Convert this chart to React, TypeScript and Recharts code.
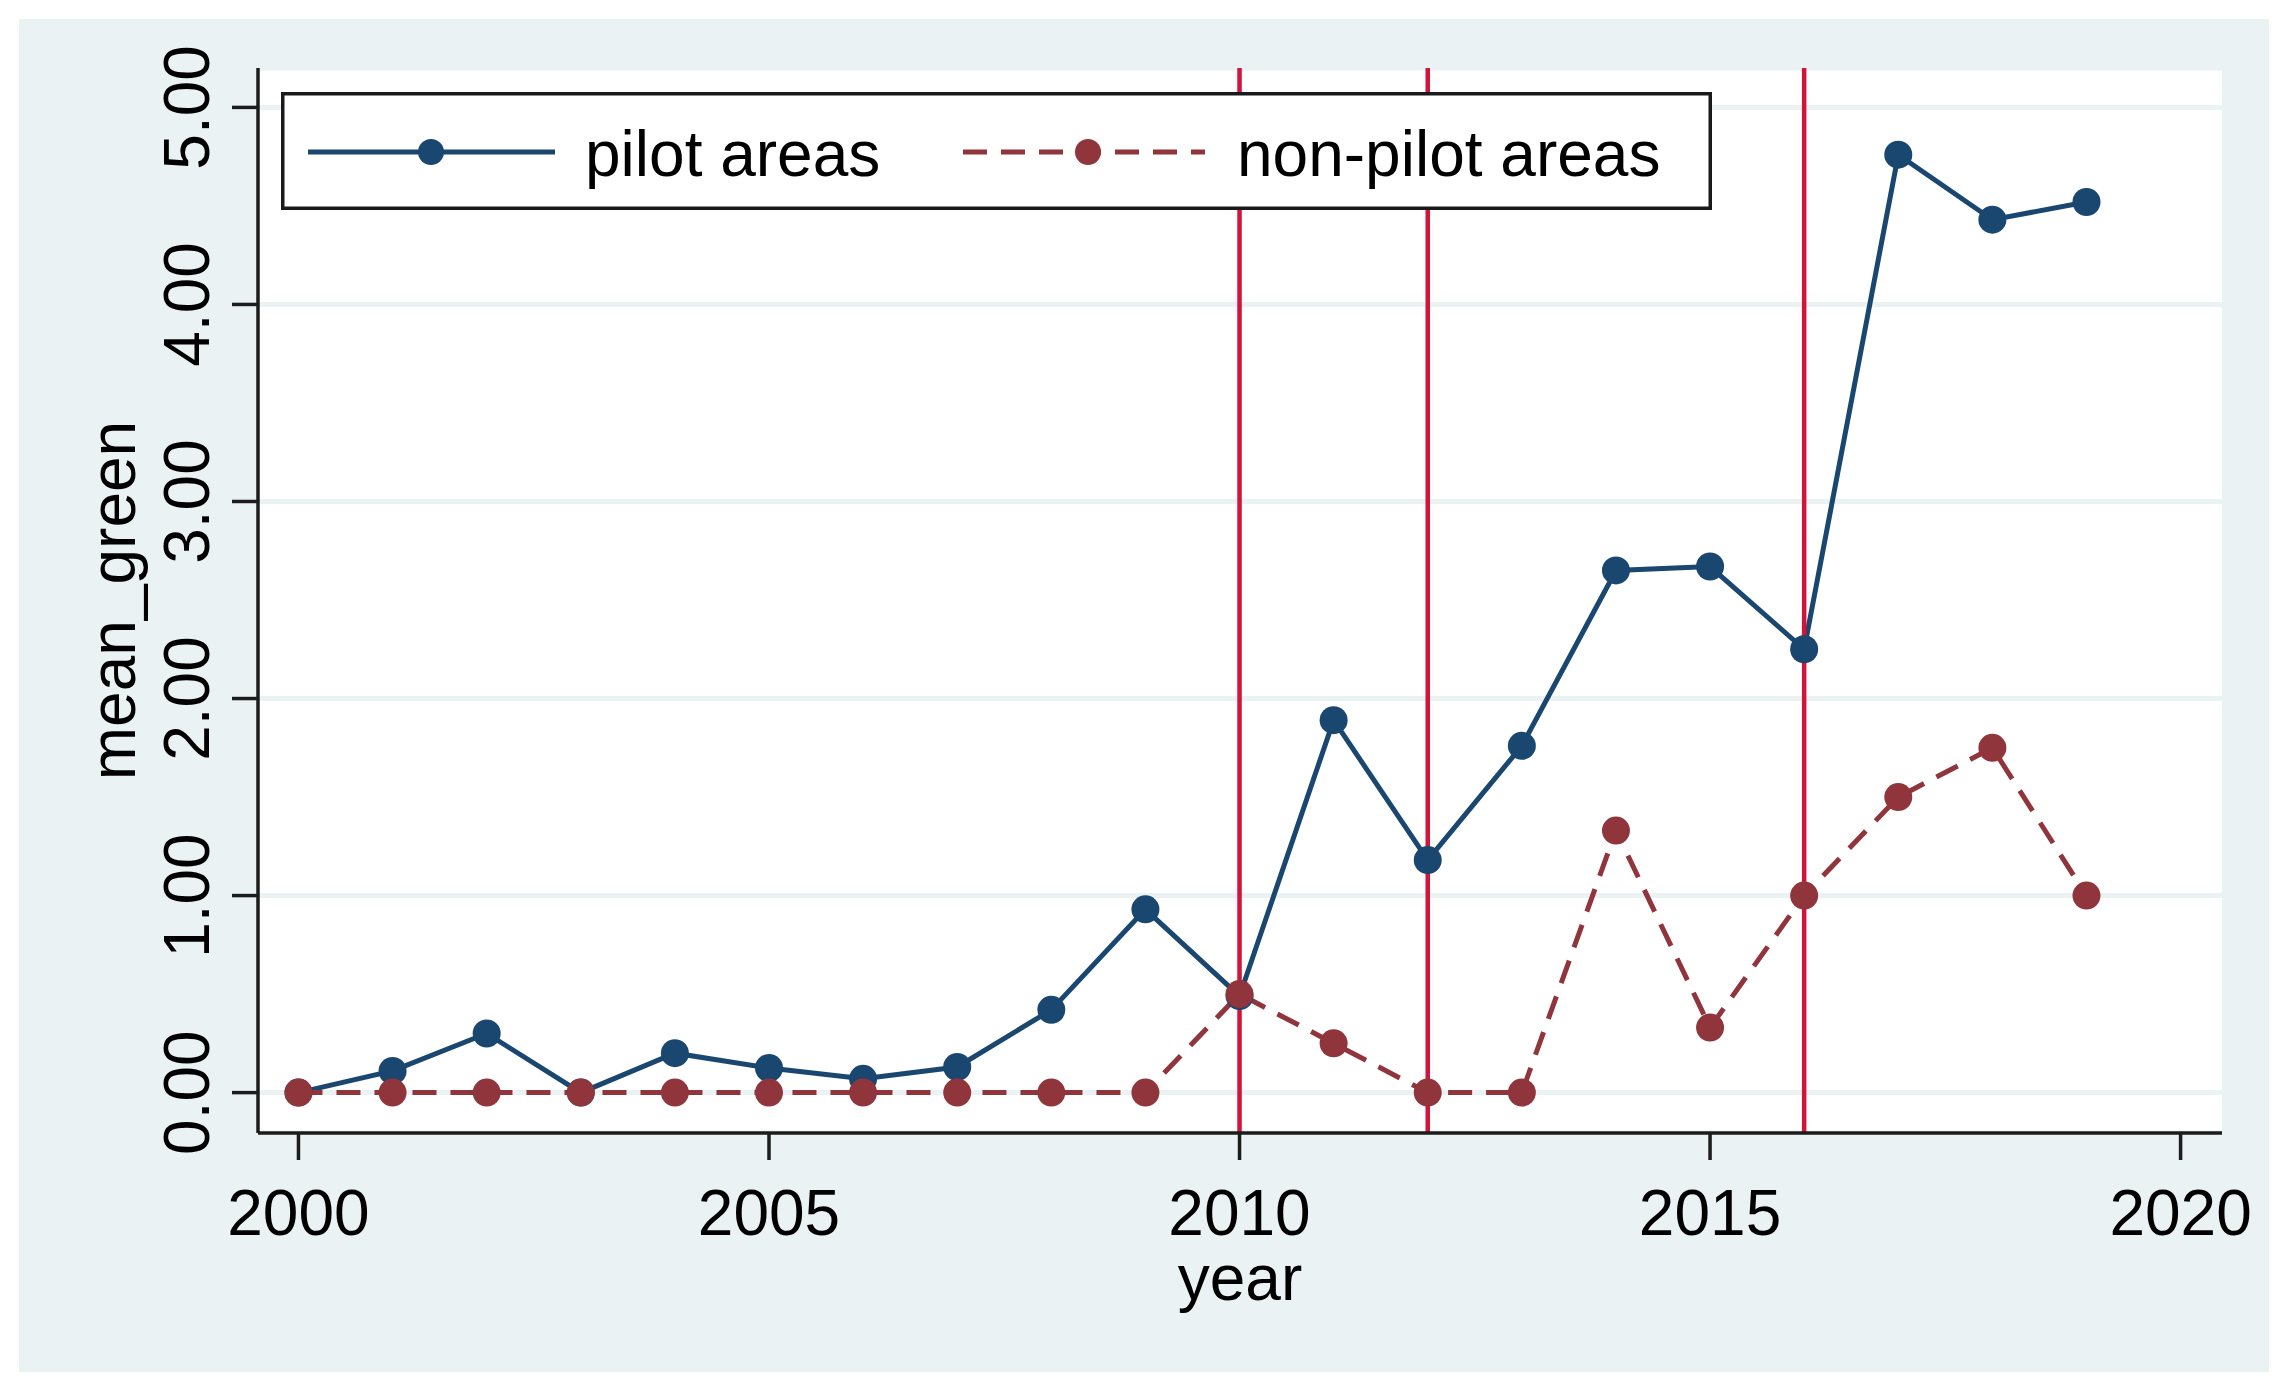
import React from 'react';
import { LineChart, Line, XAxis, YAxis, CartesianGrid, ReferenceLine, Legend, Label } from 'recharts';

const years = [2000, 2001, 2002, 2003, 2004, 2005, 2006, 2007, 2008, 2009, 2010, 2011, 2012, 2013, 2014, 2015, 2016, 2017, 2018, 2019];
const pilotAreas = [0, 0.11, 0.3, 0, 0.2, 0.125, 0.07, 0.13, 0.42, 0.93, 0.49, 1.89, 1.18, 1.76, 2.65, 2.67, 2.25, 4.76, 4.43, 4.52];
const nonPilotAreas = [0, 0, 0, 0, 0, 0, 0, 0, 0, 0, 0.5, 0.25, 0, 0, 1.33, 0.33, 1.0, 1.5, 1.75, 1.0];
const policyYears = [2010, 2012, 2016];
const xTicks = [2000, 2005, 2010, 2015, 2020];
const yTicks = [0, 1, 2, 3, 4, 5];
const seriesNames = ['pilot areas', 'non-pilot areas'];
const xTitle = 'year';
const yTitle = 'mean_green';

const data = years.map((y, i) => ({ year: y, pilot: pilotAreas[i], nonpilot: nonPilotAreas[i] }));

const FONT = '"Liberation Sans", Arial, Helvetica, sans-serif';
const NAVY = '#1a476f';
const MAROON = '#90353b';
const VLINE = '#d2143c';
const BG = '#eaf2f3';
const AXIS = '#1c1c1c';

const XTick = (props: any) => {
  const { x, y, payload } = props;
  return (
    <text x={x} y={y + 75} textAnchor="middle" fontFamily={FONT} fontSize={64} fill="#000">
      {payload.value}
    </text>
  );
};

const YTick = (props: any) => {
  const { x, y, payload } = props;
  return (
    <text
      transform={`translate(${x - 23},${y}) rotate(-90)`}
      textAnchor="middle"
      fontFamily={FONT}
      fontSize={64}
      fill="#000"
    >
      {Number(payload.value).toFixed(2)}
    </text>
  );
};

const YLabel = (props: any) => {
  const vb = props.viewBox || { x: 58, y: 68, width: 200, height: 1065 };
  const cx = vb.x + 77;
  const cy = vb.y + vb.height / 2;
  return (
    <text transform={`translate(${cx},${cy}) rotate(-90)`} textAnchor="middle" fontFamily={FONT} fontSize={64} fill="#000">
      {yTitle}
    </text>
  );
};

const XLabel = (props: any) => {
  const vb = props.viewBox || { x: 258, y: 1133, width: 1964, height: 200 };
  const cx = vb.x + vb.width / 2;
  return (
    <text x={cx} y={vb.y + 167} textAnchor="middle" fontFamily={FONT} fontSize={64} fill="#000">
      {xTitle}
    </text>
  );
};

const renderLegend = () => (
  <svg width={1431} height={118} style={{ display: 'block' }}>
    <rect x={1.75} y={1.75} width={1427.5} height={114.5} fill="#fff" stroke="#1a1a1a" strokeWidth={3.5} />
    <line x1={27} y1={60} x2={274} y2={60} stroke={NAVY} strokeWidth={5} />
    <circle cx={150} cy={60} r={13} fill={NAVY} />
    <text x={304} y={84} fontFamily={FONT} fontSize={64} fill="#000">{seriesNames[0]}</text>
    <line x1={682} y1={60} x2={924} y2={60} stroke={MAROON} strokeWidth={5} strokeDasharray="24 14" />
    <circle cx={807} cy={60} r={13} fill={MAROON} />
    <text x={956} y={84} fontFamily={FONT} fontSize={64} fill="#000">{seriesNames[1]}</text>
  </svg>
);

export default function App() {
  return (
    <div style={{ position: 'absolute', left: 0, top: 0, width: 2288, height: 1390, background: '#fff', overflow: 'hidden' }}>
      <div style={{ position: 'absolute', left: 19, top: 19, width: 2250, height: 1353, background: BG }} />
      <div style={{ position: 'absolute', left: 0, top: 0 }}>
        <LineChart width={2288} height={1390} data={data} margin={{ top: 68, right: 66, bottom: 57, left: 58 }}>
          <CartesianGrid horizontal vertical={false} stroke={BG} strokeWidth={5} fill="#fff" />
          <XAxis
            dataKey="year"
            type="number"
            domain={[1999.57, 2020.44]}
            ticks={xTicks}
            allowDataOverflow
            height={200}
            tickSize={27}
            tickMargin={0}
            tickLine={{ stroke: AXIS, strokeWidth: 3.5 }}
            axisLine={{ stroke: AXIS, strokeWidth: 3.5 }}
            tick={<XTick />}
            interval={0}
          >
            <Label content={<XLabel />} />
          </XAxis>
          <YAxis
            type="number"
            domain={[-0.205, 5.2]}
            ticks={yTicks}
            allowDataOverflow
            width={200}
            tickSize={26}
            tickMargin={0}
            tickLine={{ stroke: AXIS, strokeWidth: 3.5 }}
            axisLine={{ stroke: AXIS, strokeWidth: 3.5 }}
            tick={<YTick />}
            interval={0}
          >
            <Label content={<YLabel />} />
          </YAxis>
          <Legend
            verticalAlign="middle"
            align="center"
            layout="horizontal"
            content={renderLegend}
            wrapperStyle={{ position: 'absolute', left: 281, top: 92, width: 1431, height: 118, margin: 0, padding: 0, lineHeight: 0 }}
          />
          <Line
            type="linear"
            dataKey="pilot"
            name={seriesNames[0]}
            stroke={NAVY}
            strokeWidth={5}
            dot={{ r: 14, fill: NAVY, stroke: NAVY, strokeWidth: 0 }}
            activeDot={false}
            isAnimationActive={false}
          />
          <Line
            type="linear"
            dataKey="nonpilot"
            name={seriesNames[1]}
            stroke={MAROON}
            strokeWidth={5}
            strokeDasharray="24 14"
            dot={{ r: 14, fill: MAROON, stroke: MAROON, strokeWidth: 0, strokeDasharray: '' }}
            activeDot={false}
            isAnimationActive={false}
          />
          {policyYears.map((py) => (
            <ReferenceLine key={py} x={py} stroke={VLINE} strokeWidth={4.5} ifOverflow="extendDomain" />
          ))}
        </LineChart>
      </div>
    </div>
  );
}
